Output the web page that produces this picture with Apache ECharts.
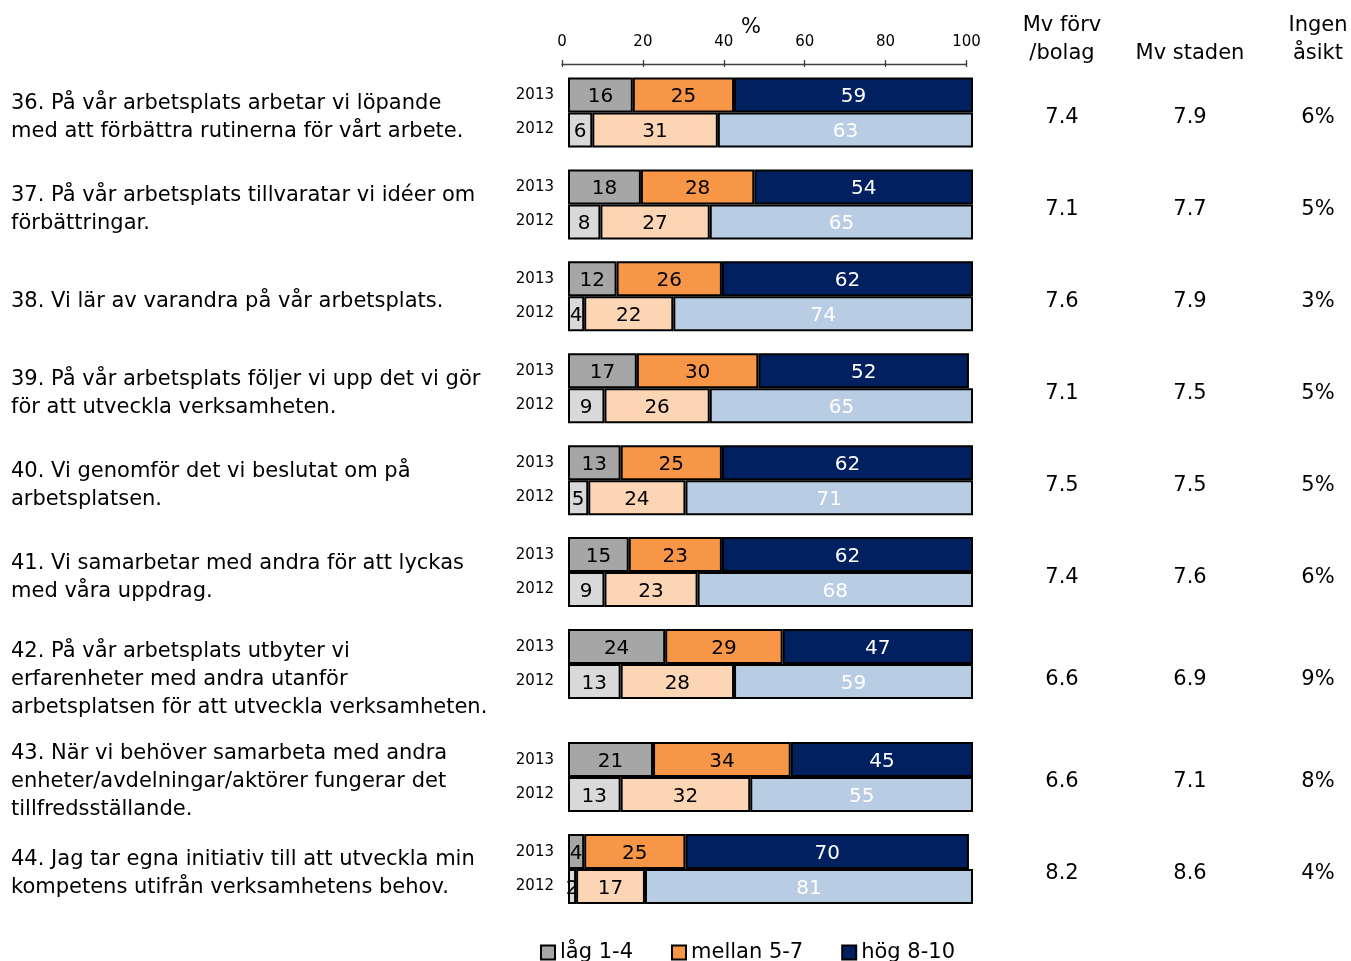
<!DOCTYPE html>
<html>
<head>
<meta charset="utf-8">
<script src="https://cdn.jsdelivr.net/npm/echarts@6/dist/echarts.min.js"></script>
<style>
html,body{margin:0;padding:0;background:#fff;}
#chart{width:1351px;height:961px;}
</style>
</head>
<body>
<div id="chart"></div>
<script>
const questions = [
  "36. På vår arbetsplats arbetar vi löpande\nmed att förbättra rutinerna för vårt arbete.",
  "37. På vår arbetsplats tillvaratar vi idéer om\nförbättringar.",
  "38. Vi lär av varandra på vår arbetsplats.",
  "39. På vår arbetsplats följer vi upp det vi gör\nför att utveckla verksamheten.",
  "40. Vi genomför det vi beslutat om på\narbetsplatsen.",
  "41. Vi samarbetar med andra för att lyckas\nmed våra uppdrag.",
  "42. På vår arbetsplats utbyter vi\nerfarenheter med andra utanför\narbetsplatsen för att utveckla verksamheten.",
  "43. När vi behöver samarbeta med andra\nenheter/avdelningar/aktörer fungerar det\ntillfredsställande.",
  "44. Jag tar egna initiativ till att utveckla min\nkompetens utifrån verksamhetens behov."
];
const years = ["2013", "2012"];
const classNames = ["låg 1-4", "mellan 5-7", "hög 8-10"];
const low2013  = [16, 18, 12, 17, 13, 15, 24, 21, 4];
const mid2013  = [25, 28, 26, 30, 25, 23, 29, 34, 25];
const high2013 = [59, 54, 62, 52, 62, 62, 47, 45, 70];
const low2012  = [6, 8, 4, 9, 5, 9, 13, 13, 2];
const mid2012  = [31, 27, 22, 26, 24, 23, 28, 32, 17];
const high2012 = [63, 65, 74, 65, 71, 68, 59, 55, 81];
const mvForv   = ["7.4", "7.1", "7.6", "7.1", "7.5", "7.4", "6.6", "6.6", "8.2"];
const mvStaden = ["7.9", "7.7", "7.9", "7.5", "7.5", "7.6", "6.9", "7.1", "8.6"];
const ingenAsikt = ["6%", "5%", "3%", "5%", "5%", "6%", "9%", "8%", "4%"];
const axisTicks = [0, 20, 40, 60, 80, 100];
const headers = ["Mv förv\n/bolag", "Mv staden", "Ingen\nåsikt"];

// ---- layout / style ----
const FONT = "DejaVu Sans";
const colors2013 = ["#A6A6A6", "#F79646", "#002060"];
const colors2012 = ["#D9D9D9", "#FCD5B4", "#B8CCE4"];
const labelColors2013 = ["#000", "#000", "#fff"];
const labelColors2012 = ["#000", "#000", "#fff"];
const LOWERED_ROW = 6;   // row whose text block sits lower beside its bars

const grids = [
  { left: 562, top: 63, width: 404.5, height: 1 },
  { left: 568, top: 66.5, width: 405, height: 643.5 },
  { left: 568, top: 731, width: 405, height: 184 }
];
const xAxes = [
  { gridIndex: 0, type: 'value', position: 'top', min: 0, max: 100, interval: 20,
    axisLine: { show: true, lineStyle: { color: '#404040', width: 1.3 } },
    axisTick: { show: true, length: 4, lineStyle: { color: '#404040', width: 1.3 } },
    splitLine: { show: false },
    axisLabel: { fontSize: 15, color: '#000', margin: 13, fontFamily: FONT,
      customValues: axisTicks } },
  { gridIndex: 0, type: 'value', position: 'top', min: 0, max: 100, interval: 20,
    axisLine: { show: false },
    axisTick: { show: true, inside: true, length: 4, lineStyle: { color: '#404040', width: 1.3 } },
    splitLine: { show: false }, axisLabel: { show: false } }
];
const yAxes = [
  { gridIndex: 0, type: 'value', show: false }
];
const series = [];

function buildGrid(gi, start, end) {
  const cats = questions.slice(start, end);
  const xi = xAxes.length;
  xAxes.push({ gridIndex: gi, type: 'value', min: 0, max: 100, show: false });
  const yq = yAxes.length;
  const qStyle = { fontSize: 21, lineHeight: 28, color: '#000', fontFamily: FONT, align: 'left' };
  yAxes.push({
    gridIndex: gi, type: 'category', data: cats, inverse: true, position: 'left',
    axisLine: { show: false }, axisTick: { show: false },
    axisLabel: { align: 'left', margin: 557, fontSize: 21, lineHeight: 28, color: '#000', fontFamily: FONT, interval: 0,
      formatter: (v, i) => {
        const body = '{n|' + v.split('\n').join('}\n{n|') + '}';
        return start + i === LOWERED_ROW ? '{sp| }\n' + body : body;
      },
      rich: { n: qStyle, sp: { fontSize: 1, lineHeight: 22 } },
      padding: [10, 0, 0, 0] }
  });
  yAxes.push({
    gridIndex: gi, type: 'category', data: cats, inverse: true, position: 'left',
    axisLine: { show: false }, axisTick: { show: false },
    axisLabel: { align: 'right', margin: 14, fontSize: 15, lineHeight: 34, color: '#000', fontFamily: FONT, interval: 0,
      padding: [3, 0, 0, 0],
      formatter: () => years.join('\n') }
  });
  const vStyle = { width: 128, align: 'center', fontSize: 21, color: '#000', fontFamily: FONT };
  yAxes.push({
    gridIndex: gi, type: 'category', data: cats, inverse: true, position: 'right',
    axisLine: { show: false }, axisTick: { show: false },
    axisLabel: { align: 'left', margin: 25, fontSize: 21, color: '#000', fontFamily: FONT, interval: 0,
      formatter: (v, i) => {
        const k = start + i;
        const t = k === LOWERED_ROW ? 'L' : '';
        return `{a${t}|${mvForv[k]}}{b${t}|${mvStaden[k]}}{c${t}|${ingenAsikt[k]}}`;
      },
      rich: {
        a: Object.assign({ padding: [10, 0, 0, 0] }, vStyle),
        b: Object.assign({ padding: [10, 0, 0, 0] }, vStyle),
        c: Object.assign({ padding: [10, 0, 0, 0] }, vStyle),
        aL: Object.assign({ padding: [32, 0, 0, 0] }, vStyle),
        bL: Object.assign({ padding: [32, 0, 0, 0] }, vStyle),
        cL: Object.assign({ padding: [32, 0, 0, 0] }, vStyle)
      } }
  });
  const sets = [
    { year: '2013', data: [low2013, mid2013, high2013], colors: colors2013, lc: labelColors2013 },
    { year: '2012', data: [low2012, mid2012, high2012], colors: colors2012, lc: labelColors2012 }
  ];
  sets.forEach(s => {
    s.data.forEach((arr, k) => {
      series.push({
        type: 'bar', name: classNames[k], xAxisIndex: xi, yAxisIndex: yq,
        stack: 'g' + gi + '_' + s.year, barWidth: 35, barGap: '0%',
        data: arr.slice(start, end),
        itemStyle: { color: s.colors[k], borderColor: '#000', borderWidth: 2 },
        label: { show: true, position: 'inside', fontSize: 20, color: s.lc[k], fontFamily: FONT, offset: [0, 2] }
      });
    });
  });
}
buildGrid(1, 0, 7);
buildGrid(2, 7, 9);

const headerX = [1062, 1190, 1318];
const graphic = headers.map((h, i) => ({
  type: 'text', x: headerX[i], y: 54 - (h.split('\n').length - 1) * 14,
  style: { text: h, textAlign: 'center', textVerticalAlign: 'middle', fontSize: 21, lineHeight: 28, fill: '#000', fontFamily: FONT }
}));
graphic.push({ type: 'text', x: 751, y: 28,
  style: { text: '%', textAlign: 'center', textVerticalAlign: 'middle', fontSize: 21, fill: '#000', fontFamily: FONT } });

const chart = echarts.init(document.getElementById('chart'));
chart.setOption({
  animation: false,
  textStyle: { fontFamily: FONT },
  grid: grids,
  xAxis: xAxes,
  yAxis: yAxes,
  series: series,
  graphic: graphic,
  legend: {
    data: classNames, left: 535, top: 937, icon: 'rect', itemWidth: 14, itemHeight: 14, itemGap: 38,
    selectedMode: false,
    itemStyle: { borderColor: '#000', borderWidth: 2 },
    textStyle: { fontSize: 21, color: '#000', fontFamily: FONT }
  }
});
</script>
</body>
</html>
